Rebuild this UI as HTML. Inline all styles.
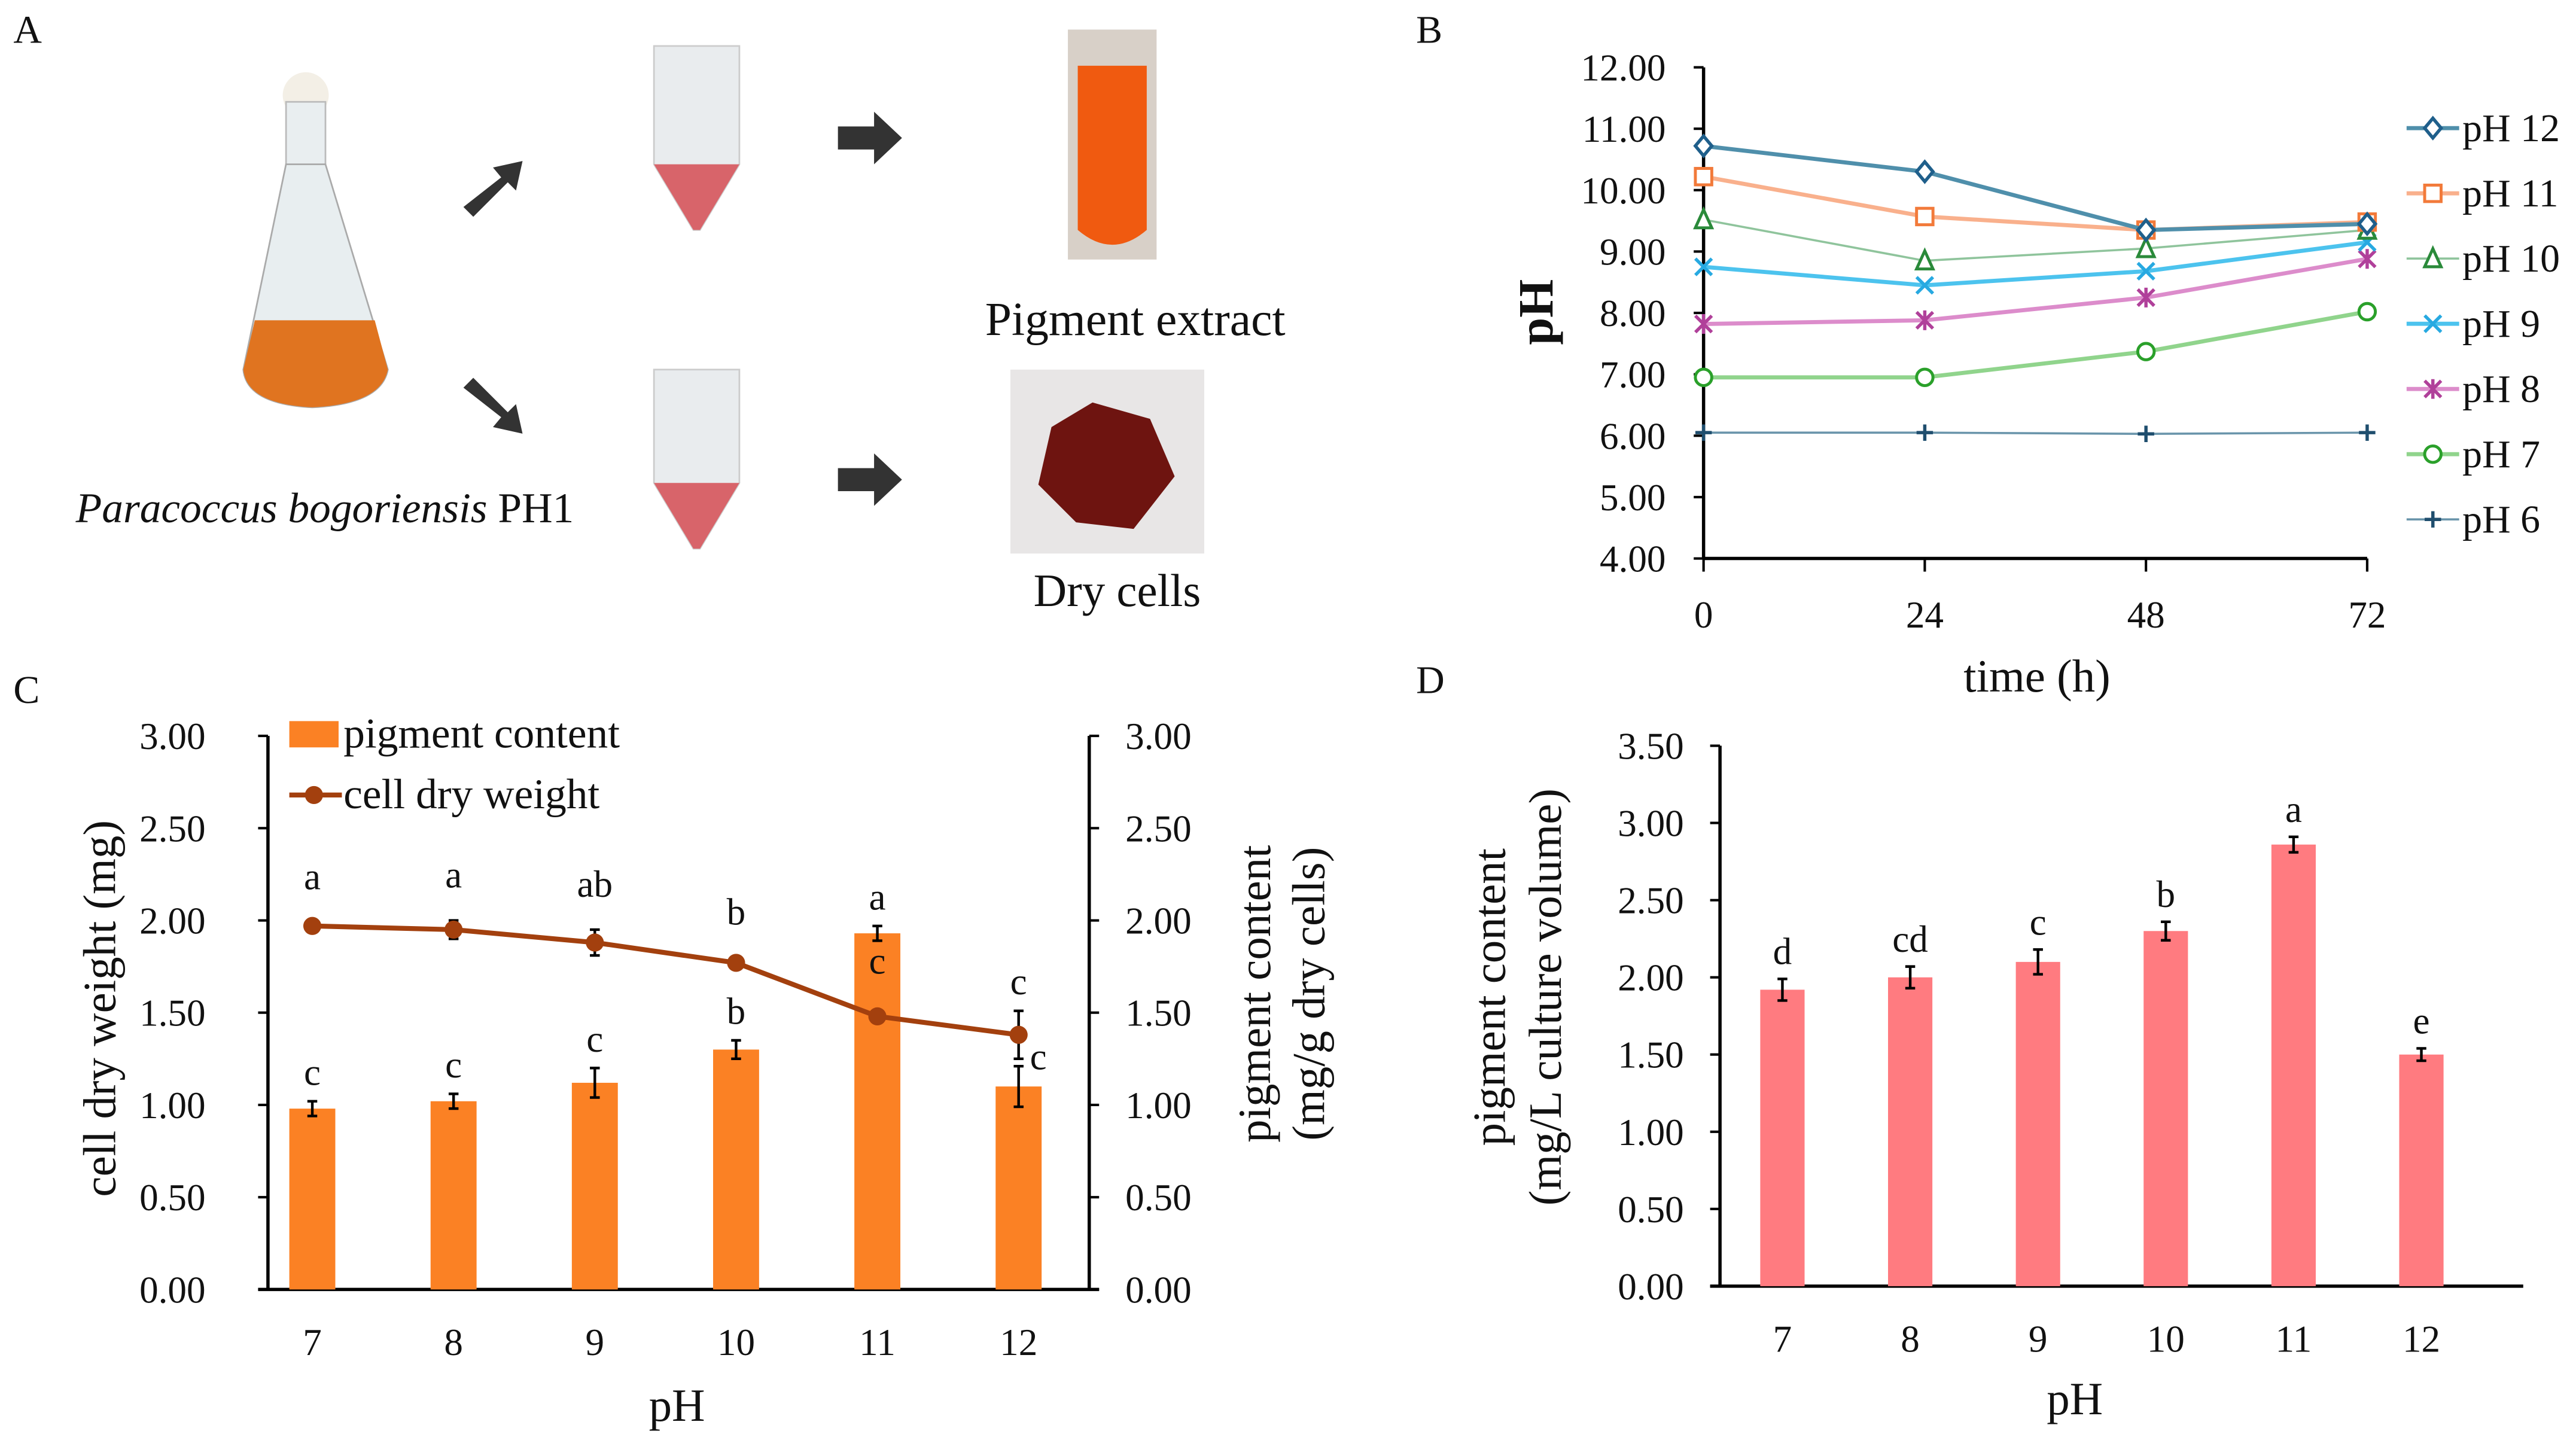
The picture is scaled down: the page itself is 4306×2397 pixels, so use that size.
<!DOCTYPE html>
<html><head><meta charset="utf-8"><style>
html,body{margin:0;padding:0;background:#fff}
svg{display:block}
text{font-family:"Liberation Serif",serif;fill:#111}
</style></head><body>
<svg id="fig" width="4306" height="2397" viewBox="0 0 1568 873" xmlns="http://www.w3.org/2000/svg">
<g id="panelA">
<text x="8" y="26" font-size="24">A</text>
<g>
<ellipse cx="186" cy="58" rx="14" ry="14" fill="#f3efe6"/>
<rect x="174" y="62" width="24" height="40" fill="#e9eef0" stroke="#bbb"/>
<path d="M174 100 L148 225 Q150 246 190 248 Q232 246 236 225 L198 100 Z" fill="#e8eef0" stroke="#aaa"/>
<path d="M155 195 L228 195 L236 225 Q232 246 190 248 Q150 246 148 225 Z" fill="#e07420"/>
</g>
<text x="46" y="318" font-size="26"><tspan font-style="italic">Paracoccus bogoriensis</tspan> PH1</text>
<path d="M282 126 L305 108 L300 102 L318 98 L314 116 L309 111 L288 132 Z" fill="#333"/>
<path d="M282 236 L305 254 L300 260 L318 264 L314 246 L309 251 L288 230 Z" fill="#333"/>
<g>
<path d="M398 28 L450 28 L450 100 L426 140 L422 140 L398 100 Z" fill="#e9ecee" stroke="#ccc"/>
<path d="M398 100 L450 100 L426 140 L422 140 Z" fill="#d8646a"/>
</g>
<g>
<path d="M398 225 L450 225 L450 294 L426 334 L422 334 L398 294 Z" fill="#e9ecee" stroke="#ccc"/>
<path d="M398 294 L450 294 L426 334 L422 334 Z" fill="#d8646a"/>
</g>
<path d="M510 77 L532 77 L532 68 L549 84 L532 100 L532 91 L510 91 Z" fill="#333"/>
<path d="M510 285 L532 285 L532 276 L549 292 L532 308 L532 299 L510 299 Z" fill="#333"/>
<g>
<rect x="650" y="18" width="54" height="140" fill="#d8d0c8"/>
<path d="M656 40 L698 40 L698 140 Q677 158 656 140 Z" fill="#f05a10"/>
</g>
<text x="691" y="204" font-size="29" text-anchor="middle">Pigment extract</text>
<g>
<rect x="615" y="225" width="118" height="112" fill="#e8e6e6"/>
<path d="M640 260 L665 245 L700 255 L715 290 L690 322 L655 318 L632 295 Z" fill="#6e1410"/>
</g>
<text x="680" y="369" font-size="28" text-anchor="middle">Dry cells</text>
</g>
<text x="862" y="26" font-size="24">B</text>
<text x="862" y="422" font-size="24">D</text>
<text x="8" y="428" font-size="24">C</text>
<g id="B"></g><g id="C"></g><g id="D"></g>
</svg>
<script>
// ---- Panel B data ----
const bTimes=[0,24,48,72];
const bTicksY=[4,5,6,7,8,9,10,11,12];
const bNames=["pH 12","pH 11","pH 10","pH 9","pH 8","pH 7","pH 6"];
const pH12=[10.72,10.30,9.35,9.45];
const pH11=[10.22,9.57,9.35,9.48];
const pH10=[9.52,8.85,9.05,9.35];
const pH9=[8.75,8.45,8.68,9.15];
const pH8=[7.82,7.88,8.25,8.88];
const pH7=[6.95,6.95,7.37,8.02];
const pH6=[6.05,6.05,6.03,6.05];
// ---- Panel C data ----
const cCats=["7","8","9","10","11","12"];
const cPigment=[0.98,1.02,1.12,1.30,1.93,1.10];
const cPigmentErr=[0.04,0.04,0.08,0.05,0.04,0.11];
const cWeight=[1.97,1.95,1.88,1.77,1.48,1.38];
const cWeightErr=[0.02,0.05,0.07,0.03,0.02,0.13];
const cWeightLetters=["a","a","ab","b","c","c"];
const cPigLetters=["c","c","c","b","a","c"];
const cTicks=[0,0.5,1,1.5,2,2.5,3];
// ---- Panel D data ----
const dCats=["7","8","9","10","11","12"];
const dVals=[1.92,2.00,2.10,2.30,2.86,1.50];
const dErr=[0.07,0.07,0.08,0.06,0.05,0.04];
const dLetters=["d","cd","c","b","a","e"];
const dTicks=[0,0.5,1,1.5,2,2.5,3,3.5];

const NS="http://www.w3.org/2000/svg";
const TF=23, LF=23, TT=28;
function mk(parent,tag,attrs,txt){const e=document.createElementNS(NS,tag);for(const k in attrs)e.setAttribute(k,attrs[k]);if(txt!==undefined)e.textContent=txt;parent.appendChild(e);return e;}

// ===== B =====
(function(){
const g=document.getElementById('B');
const x=t=>1037+(t/72)*(1441-1037);
const y=v=>340-(v-4)/8*(340-41);
let a=mk(g,'line',{x1:1037,y1:41,x2:1037,y2:340,stroke:'#000','stroke-width':2});

a=mk(g,'line',{x1:1037,y1:340,x2:1441,y2:340,stroke:'#000','stroke-width':2});

bTicksY.forEach(v=>{mk(g,'line',{x1:1031,x2:1037,y1:y(v),y2:y(v),stroke:'#000','stroke-width':1.5});
const t=mk(g,'text',{x:1014,y:y(v)+8,'font-size':TF,'text-anchor':'end'},v.toFixed(2));
});
bTimes.forEach(v=>{mk(g,'line',{x1:x(v),x2:x(v),y1:340,y2:348,stroke:'#000','stroke-width':1.5});
const t=mk(g,'text',{x:x(v),y:382,'font-size':TF,'text-anchor':'middle'},v);
});
let t=mk(g,'text',{x:1240,y:421,'font-size':TT,'text-anchor':'middle'},'time (h)');

t=mk(g,'text',{x:0,y:0,'font-size':30,'font-weight':'bold','text-anchor':'middle',transform:'translate(945,190) rotate(-90)'},'pH');

const series=[pH12,pH11,pH10,pH9,pH8,pH7,pH6];
const lc=['#4f8fab','#f9b08c','#8fc49c','#4cc3ee','#dc8ccb','#90d48c','#6a95ab'];
const mc=['#1f5f8b','#f27a3a','#2a8a3a','#27a9e1','#b0409a','#2aa02a','#1f4e6e'];
const lw=[2.5,2.5,1.3,2.5,2.5,2.5,1.3];
const shp=['diamond','square','triangle','x','star','circle','plus'];
function marker(p,s,cx,cy,c){
 if(s==='diamond')return mk(p,'path',{d:`M${cx} ${cy-6}L${cx+5} ${cy}L${cx} ${cy+6}L${cx-5} ${cy}Z`,fill:'#fff',stroke:c,'stroke-width':2});
 if(s==='square')return mk(p,'rect',{x:cx-5,y:cy-5,width:10,height:10,fill:'#fff',stroke:c,'stroke-width':1.8});
 if(s==='triangle')return mk(p,'path',{d:`M${cx} ${cy-6}L${cx+5} ${cy+5}L${cx-5} ${cy+5}Z`,fill:'#fff',stroke:c,'stroke-width':1.8});
 if(s==='x')return mk(p,'path',{d:`M${cx-5} ${cy-5}L${cx+5} ${cy+5}M${cx+5} ${cy-5}L${cx-5} ${cy+5}`,stroke:c,'stroke-width':2});
 if(s==='star')return mk(p,'path',{d:`M${cx-5} ${cy-5}L${cx+5} ${cy+5}M${cx+5} ${cy-5}L${cx-5} ${cy+5}M${cx} ${cy-6}L${cx} ${cy+6}`,stroke:c,'stroke-width':2});
 if(s==='circle')return mk(p,'circle',{cx:cx,cy:cy,r:5,fill:'#fff',stroke:c,'stroke-width':1.8});
 return mk(p,'path',{d:`M${cx-5} ${cy}L${cx+5} ${cy}M${cx} ${cy-5}L${cx} ${cy+5}`,stroke:c,'stroke-width':2});
}
for(let i=series.length-1;i>=0;i--){
 const s=series[i];
 const sg=mk(g,'g',{});
 
 
 mk(sg,'polyline',{points:s.map((v,j)=>x(bTimes[j])+','+y(v)).join(' '),fill:'none',stroke:lc[i],'stroke-width':lw[i]});
 s.forEach((v,j)=>{const m=marker(sg,shp[i],x(bTimes[j]),y(v),mc[i]);
  });
 const ly=78+i*39.7;
 const lg=mk(g,'g',{});
 
 mk(lg,'line',{x1:1465,x2:1497,y1:ly,y2:ly,stroke:lc[i],'stroke-width':lw[i]});
 marker(lg,shp[i],1481,ly,mc[i]);
 mk(lg,'text',{x:1499,y:ly+8,'font-size':24},bNames[i]);
}
})();

// ===== C =====
(function(){
const g=document.getElementById('C');
const x0=190,dx=86;
const x=i=>x0+i*dx;
const y=v=>785-v/3*(785-448);
let a=mk(g,'line',{x1:163,y1:448,x2:163,y2:785,stroke:'#000','stroke-width':2});

a=mk(g,'line',{x1:663,y1:448,x2:663,y2:785,stroke:'#000','stroke-width':2});

a=mk(g,'line',{x1:157,y1:785,x2:669,y2:785,stroke:'#000','stroke-width':2});

cTicks.forEach(v=>{mk(g,'line',{x1:157,x2:163,y1:y(v),y2:y(v),stroke:'#000','stroke-width':1.5});
mk(g,'line',{x1:663,x2:669,y1:y(v),y2:y(v),stroke:'#000','stroke-width':1.5});
let t=mk(g,'text',{x:125,y:y(v)+8,'font-size':TF,'text-anchor':'end'},v.toFixed(2));

t=mk(g,'text',{x:685,y:y(v)+8,'font-size':TF},v.toFixed(2));
});
cCats.forEach((c,i)=>{const t=mk(g,'text',{x:x(i),y:825,'font-size':TF,'text-anchor':'middle'},c);
});
cPigment.forEach((v,i)=>{
 const r=mk(g,'rect',{x:x(i)-14,y:y(v),width:28,height:y(0)-y(v),fill:'#fb8124'});
 
 const e=cPigmentErr[i];
 const eb=mk(g,'path',{d:`M${x(i)} ${y(v+e)}V${y(v-e)}M${x(i)-3} ${y(v+e)}h6M${x(i)-3} ${y(v-e)}h6`,stroke:'#000','stroke-width':1.6,fill:'none'});
 
});
const lg=mk(g,'g',{});

mk(lg,'polyline',{points:cWeight.map((v,i)=>x(i)+','+y(v)).join(' '),fill:'none',stroke:'#a3400e','stroke-width':3});
cWeight.forEach((v,i)=>{const e=cWeightErr[i];
 mk(lg,'path',{d:`M${x(i)} ${y(v+e)}V${y(v-e)}M${x(i)-3} ${y(v+e)}h6M${x(i)-3} ${y(v-e)}h6`,stroke:'#000','stroke-width':1.6,fill:'none'});
 const c=mk(lg,'circle',{cx:x(i),cy:y(v),r:5.5,fill:'#a3400e'});
 });
cWeightLetters.forEach((l,i)=>{
 let ly;
 if(i<4) ly=Math.min(y(cWeight[i]+cWeightErr[i]),y(cPigment[i]+cPigmentErr[i]))-20;
 else ly=y(cWeight[i]+cWeightErr[i])-10;
 if(i===4) ly=y(cPigment[i]+cPigmentErr[i])-10;
 const t=mk(g,'text',{x:x(i),y:ly,'font-size':LF,'text-anchor':'middle'},i===4?cPigLetters[i]:l);
 
});
cPigLetters.forEach((l,i)=>{
 let lx=x(i),ly=y(cPigment[i]+cPigmentErr[i])-10;
 if(i===4){ly=y(cWeight[i])-26;l=cWeightLetters[i];}
 if(i===5){lx=x(i)+12;ly=y(cPigment[i]+cPigmentErr[i])+2;}
 const t=mk(g,'text',{x:lx,y:ly,'font-size':LF,'text-anchor':'middle'},l);
 
});
const leg=mk(g,'g',{});

mk(leg,'rect',{x:176,y:439,width:30,height:16,fill:'#fb8124'});
mk(leg,'text',{x:209,y:455,'font-size':26},'pigment content');
mk(leg,'line',{x1:176,x2:208,y1:484,y2:484,stroke:'#a3400e','stroke-width':3});
mk(leg,'circle',{cx:191,cy:484,r:5.5,fill:'#a3400e'});
mk(leg,'text',{x:209,y:492,'font-size':26},'cell dry weight');
let t=mk(g,'text',{x:0,y:0,'font-size':28,'text-anchor':'middle',transform:'translate(70,614) rotate(-90)'},'cell dry weight (mg)');

t=mk(g,'text',{x:0,y:0,'font-size':28,'text-anchor':'middle',transform:'translate(773,605) rotate(-90)'},'pigment content');

t=mk(g,'text',{x:0,y:0,'font-size':28,'text-anchor':'middle',transform:'translate(806,605) rotate(-90)'},'(mg/g dry cells)');

t=mk(g,'text',{x:412,y:865,'font-size':TT,'text-anchor':'middle'},'pH');

})();

// ===== D =====
(function(){
const g=document.getElementById('D');
const x=i=>1085+i*77.8;
const y=v=>783-v/3.5*(783-454);
let a=mk(g,'line',{x1:1047,y1:454,x2:1047,y2:783,stroke:'#000','stroke-width':2});

a=mk(g,'line',{x1:1041,y1:783,x2:1536,y2:783,stroke:'#000','stroke-width':2});

dTicks.forEach(v=>{mk(g,'line',{x1:1041,x2:1047,y1:y(v),y2:y(v),stroke:'#000','stroke-width':1.5});
const t=mk(g,'text',{x:1025,y:y(v)+8,'font-size':TF,'text-anchor':'end'},v.toFixed(2));
});
dCats.forEach((c,i)=>{const t=mk(g,'text',{x:x(i),y:823,'font-size':TF,'text-anchor':'middle'},c);
});
dVals.forEach((v,i)=>{
 const r=mk(g,'rect',{x:x(i)-13.5,y:y(v),width:27,height:y(0)-y(v),fill:'#ff7b80'});
 
 const e=dErr[i];
 const eb=mk(g,'path',{d:`M${x(i)} ${y(v+e)}V${y(v-e)}M${x(i)-3} ${y(v+e)}h6M${x(i)-3} ${y(v-e)}h6`,stroke:'#000','stroke-width':1.6,fill:'none'});
 
 const t=mk(g,'text',{x:x(i),y:y(v+e)-9,'font-size':LF,'text-anchor':'middle'},dLetters[i]);
 
});
let t=mk(g,'text',{x:0,y:0,'font-size':28,'text-anchor':'middle',transform:'translate(916,607) rotate(-90)'},'pigment content');

t=mk(g,'text',{x:0,y:0,'font-size':28,'text-anchor':'middle',transform:'translate(950,607) rotate(-90)'},'(mg/L culture volume)');

t=mk(g,'text',{x:1263,y:861,'font-size':TT,'text-anchor':'middle'},'pH');

})();
</script>
</body></html>
